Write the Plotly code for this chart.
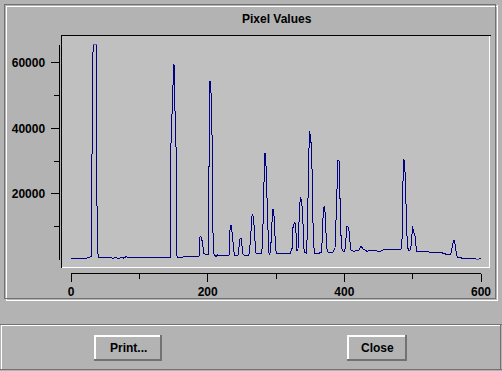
import plotly.graph_objects as go

# ---------------- data ----------------
x_index = [
    0, 16, 23, 29.3, 30.7, 32.2, 33.2, 36.6, 37.6, 39.1, 40.5, 59.5, 60.9, 64.4, 69.3,
    74.1, 77.6, 80.5, 82.9, 144.9, 145.9, 148.8, 150.3, 151.2, 151.7, 153.2, 154.1,
    155.1, 156.1, 186.3, 187.3, 188.8, 190.2, 191.7, 193.2, 194.6, 200.5, 201.5, 202.4,
    203.4, 203.9, 204.4, 205.3, 206.3, 207.3, 208.8, 212.2, 214.7, 218, 231.2, 232.2,
    233.1, 234.6, 236.1, 237.5, 239, 244.4, 245.9, 247.3, 248.8, 250.2, 251.7, 253.6,
    259.5, 260.9, 263, 264.5, 265.9, 267.4, 268.8, 270.3, 271.8, 279.1, 280.5, 282,
    283.5, 284.9, 286.4, 287.9, 289.3, 290.8, 292.2, 293.7, 295.2, 296.6, 298.1, 299.6,
    301, 320.5, 323.4, 324.9, 326.8, 328.3, 329.8, 330.7, 332.2, 333.2, 334.7, 336.1,
    337.6, 339.1, 340.5, 342, 344.9, 346.4, 347.8, 348.8, 349.8, 351.7, 353.2, 354.6,
    356.6, 363.4, 366.9, 368.3, 369.8, 371.3, 372.2, 374.2, 375.7, 380, 383, 386.3,
    387.8, 389.3, 390.7, 392.2, 393.2, 394.7, 395.6, 397.1, 399.5, 401, 402.4, 403.9,
    406.4, 407.8, 409.3, 413.2, 421, 422.5, 424, 425.4, 427.8, 432.7, 442.4, 452.2,
    457, 482.9, 484.4, 485.4, 486.3, 488.3, 489.8, 490.7, 492.2, 494.2, 497.1, 498.6,
    500, 501.5, 503, 504.4, 505.9, 518, 525.4, 542.5, 544.9, 554.6, 556.6, 558.6, 560,
    561.5, 563, 564.4, 566.8, 579, 593.7, 596, 600,
]
pixel_values = [
    210, 500, 400, 820, 34500, 63300, 65535, 65535, 22600, 2230, 520, 520, 200, 700, 300,
    700, 400, 900, 600, 600, 32760, 53330, 59440, 59200, 45490, 44970, 21070,
    1010, 700, 800, 920, 6810, 7020, 5800, 3270, 1740, 1430, 17500, 39380,
    54440, 53120, 53830, 48540, 39380, 11390, 1740, 920, 1430, 1220, 1220, 7840,
    9860, 10590, 6810, 3760, 1220, 1220, 3760, 6320, 6520, 4270, 1740, 1330,
    1220, 1930, 6810, 12920, 13950, 11910, 5800, 2230, 1740, 1740, 6320, 19020,
    32570, 31750, 19020, 6810, 2230, 1430, 2750, 9860, 15480, 15270, 7840, 2960,
    1930, 1740, 3270, 9860, 11200, 10890, 6810, 2750, 3270, 11910, 17000, 19020,
    17500, 13950, 3760, 2030, 1930, 13950, 24120, 39080, 38370, 34800, 24120, 5290,
    1930, 1930, 2340, 10890, 15980, 16280, 11390, 3760, 2340, 2030, 2230, 3270,
    11910, 26160, 30440, 30010, 21070, 13950, 3760, 2750, 2440, 3270, 7840, 10070,
    9670, 5800, 2950, 2540, 2750, 3270, 3970, 3760, 3150, 2540, 2750, 2440,
    2950, 2950, 6320, 17000, 30440, 30010, 21070, 11910, 3970, 2750, 2950, 6810,
    10070, 8150, 8040, 4790, 2540, 2540, 2240, 2140, 1740, 1530, 2240, 4790, 5800,
    5600, 3270, 1220, 520, 410, 310, 100, 310,
]
x_tick_vals = [0, 200, 400, 600]
x_tick_text = ["0", "200", "400", "600"]
x_minor_vals = [100, 300, 500]
y_tick_vals = [20000, 40000, 60000]
y_tick_text = ["20000", "40000", "60000"]
y_minor_vals = [10000, 30000, 50000]
y_max = 65535
chart_title = "Pixel Values"
button_labels = ["Print...", "Close"]

# ---------------- styling ----------------
W, H = 502, 371
BG = "#b3b3b3"
PLOT_BG = "#c0c0c0"
DARK = "#727272"
WHITE = "#ffffff"
TRACE = "#000080"
FONT = "Liberation Sans, Arial, Helvetica, sans-serif"


def fx(p):
    return p / W


def fy(p):
    return 1 - p / H


shapes = []


def line(x0, y0, x1, y1, color, w=1):
    shapes.append(dict(type="line", xref="paper", yref="paper",
                       x0=fx(x0), y0=fy(y0), x1=fx(x1), y1=fy(y1),
                       line=dict(color=color, width=w), layer="below"))


def rect(x0, y0, x1, y1, fill):
    shapes.append(dict(type="rect", xref="paper", yref="paper",
                       x0=fx(x0), y0=fy(y0), x1=fx(x1), y1=fy(y1),
                       fillcolor=fill, line=dict(width=0), layer="below"))


# outer etched frame
line(6, 6.5, 497, 6.5, WHITE)
line(6.5, 6, 6.5, 300, WHITE)
line(6, 300.5, 498, 300.5, WHITE)
line(497.5, 5, 497.5, 301, WHITE)
line(4, 4.5, 496, 4.5, DARK)
line(4.5, 4, 4.5, 299, DARK)
line(4, 298.5, 496, 298.5, DARK)
line(495.5, 4, 495.5, 299, DARK)

# plotting surface (sunken)
rect(61, 35, 490, 268, PLOT_BG)
line(61, 35.5, 491, 35.5, "#000000")
line(61.5, 35, 61.5, 268, "#000000")
line(62, 267.5, 490, 267.5, WHITE)
line(489.5, 36, 489.5, 268, WHITE)

# lower button panel
line(0, 324.5, 502, 324.5, DARK)
line(1, 325.5, 500, 325.5, WHITE)
line(1.5, 325, 1.5, 369, WHITE)
line(0, 369.5, 502, 369.5, DARK)
line(500.5, 325, 500.5, 370, DARK)

# buttons
button_boxes = [(94, 335, 162, 361), (347, 335, 407, 361)]
for (bx0, by0, bx1, by1) in button_boxes:
    line(bx0, by0 + 1, bx1, by0 + 1, WHITE, 2)
    line(bx0 + 1, by0, bx0 + 1, by1, WHITE, 2)
    line(bx0, by1 - 1, bx1, by1 - 1, DARK, 2)
    line(bx1 - 1, by0, bx1 - 1, by1, DARK, 2)

annotations = [
    dict(text=chart_title, xref="paper", yref="paper", x=fx(276.5), y=fy(19.5),
         xanchor="center", yanchor="middle", showarrow=False,
         font=dict(family=FONT, size=12, color="black", weight="bold")),
]
for (bx0, by0, bx1, by1), lab in zip(button_boxes, button_labels):
    annotations.append(dict(text=lab, xref="paper", yref="paper",
                            x=fx((bx0 + bx1) / 2), y=fy((by0 + by1) / 2),
                            xanchor="center", yanchor="middle", showarrow=False,
                            font=dict(family=FONT, size=12, color="black", weight="bold")))

fig = go.Figure()
fig.add_trace(go.Scatter(x=x_index, y=pixel_values, mode="lines",
                         line=dict(color=TRACE, width=1), hoverinfo="skip",
                         cliponaxis=False))

tick_font = dict(family=FONT, size=12, color="black", weight="bold")
fig.update_layout(
    width=W, height=H, autosize=False, margin=dict(l=0, r=0, t=0, b=0, pad=0),
    paper_bgcolor=BG, plot_bgcolor="rgba(0,0,0,0)", showlegend=False,
    shapes=shapes, annotations=annotations,
    xaxis=dict(domain=[fx(71), fx(481)], range=[0, 600], anchor="free",
               position=fy(272.5), showline=True, linecolor="black", linewidth=1,
               ticks="outside", ticklen=8, tickwidth=1, tickcolor="black",
               tickmode="array", tickvals=x_tick_vals, ticktext=x_tick_text,
               tickfont=tick_font, showgrid=False, zeroline=False, automargin=False,
               minor=dict(tickmode="array", tickvals=x_minor_vals, ticks="outside",
                          ticklen=5, tickwidth=1, tickcolor="black", showgrid=False)),
    yaxis=dict(domain=[fy(259.5), fy(44.6)], range=[0, y_max], anchor="free",
               position=fx(58.5), showline=True, linecolor="black", linewidth=1,
               ticks="outside", ticklen=8, tickwidth=1, tickcolor="black",
               tickmode="array", tickvals=y_tick_vals, ticktext=y_tick_text,
               tickfont=tick_font, showgrid=False, zeroline=False, automargin=False,
               ticklabelstandoff=3,
               minor=dict(tickmode="array", tickvals=y_minor_vals, ticks="outside",
                          ticklen=5, tickwidth=1, tickcolor="black", showgrid=False)),
)

fig.write_html(
    "out.html",
    config={"displayModeBar": False, "responsive": False, "staticPlot": True},
    post_script=(
        "document.body.style.margin='0';document.body.style.overflow='hidden';"
        "document.querySelectorAll('.scatterlayer path.js-line').forEach("
        "function(p){p.style.shapeRendering='crispEdges';});"
    ),
)
